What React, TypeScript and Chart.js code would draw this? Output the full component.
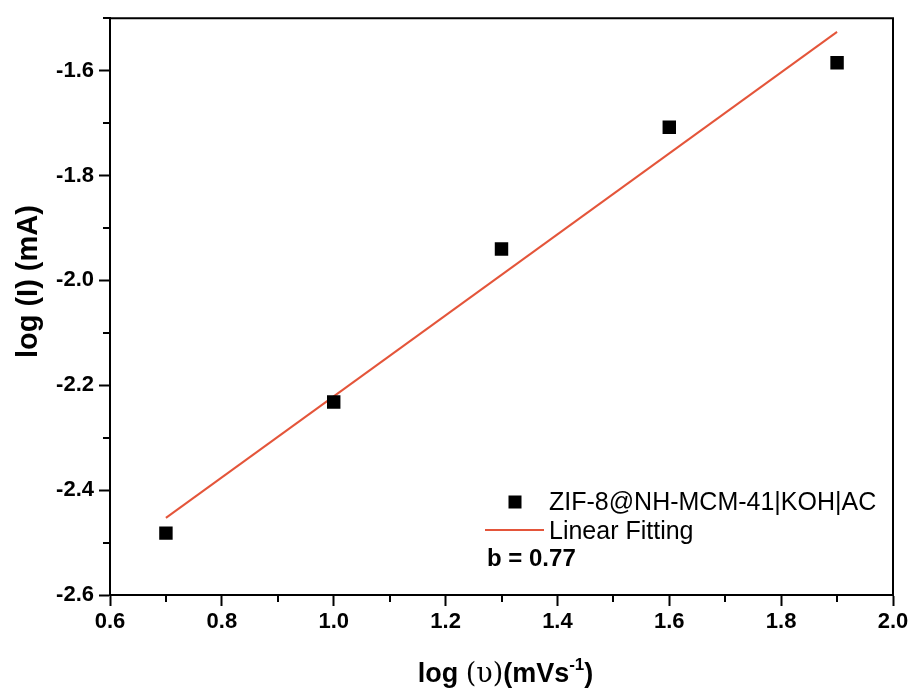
import React, { useEffect, useRef } from "react";
import { Chart, registerables } from "chart.js";

Chart.register(...registerables);

const scanRateLog = [0.7, 1.0, 1.3, 1.6, 1.9];
const currentLog = [-2.482, -2.232, -1.94, -1.708, -1.585];
const fitX = [0.7, 1.9];
const fitY = [-2.453, -1.526];
const xTicks = [0.6, 0.8, 1.0, 1.2, 1.4, 1.6, 1.8, 2.0];
const yTicks = [-2.6, -2.4, -2.2, -2.0, -1.8, -1.6];
const xMinor = [0.7, 0.9, 1.1, 1.3, 1.5, 1.7, 1.9];
const yMinor = [-2.5, -2.3, -2.1, -1.9, -1.7, -1.5];
const seriesLabel = "ZIF-8@NH-MCM-41|KOH|AC";
const fitLabel = "Linear Fitting";
const slopeLabel = "b = 0.77";

const RED = "#E4553A";

const decorPlugin = {
  id: "decor",
  afterDraw(chart: any) {
    const { ctx, chartArea, scales } = chart;
    const xs = scales.x;
    const ys = scales.y;
    ctx.save();
    ctx.strokeStyle = "#000";
    ctx.lineWidth = 2;
    // top and right frame
    ctx.beginPath();
    ctx.moveTo(chartArea.left - 1, chartArea.top);
    ctx.lineTo(chartArea.right, chartArea.top);
    ctx.lineTo(chartArea.right, chartArea.bottom);
    ctx.stroke();
    // minor ticks
    ctx.beginPath();
    xMinor.forEach((v) => {
      const px = Math.round(xs.getPixelForValue(v));
      ctx.moveTo(px, chartArea.bottom);
      ctx.lineTo(px, chartArea.bottom + 7);
    });
    yMinor.forEach((v) => {
      const py = Math.round(ys.getPixelForValue(v));
      ctx.moveTo(chartArea.left, py);
      ctx.lineTo(chartArea.left - 7, py);
    });
    ctx.stroke();

    // y title
    ctx.fillStyle = "#000";
    ctx.save();
    ctx.translate(29, (chartArea.top + chartArea.bottom) / 2 - 25);
    ctx.rotate(-Math.PI / 2);
    ctx.font = "bold 29px 'Liberation Sans', Arial, sans-serif";
    ctx.textAlign = "center";
    ctx.textBaseline = "middle";
    ctx.fillText("log (I) (mA)", 0, 0);
    ctx.restore();

    // x title with mixed fonts
    const bold = "bold 27px 'Liberation Sans', Arial, sans-serif";
    const serif = "27px 'DejaVu Serif', 'Liberation Serif', serif";
    const sup = "bold 17px 'Liberation Sans', Arial, sans-serif";
    const parts: [string, string, number][] = [
      ["log ", bold, 0],
      ["(\u03C5)", serif, 0],
      ["(mVs", bold, 0],
      ["-1", sup, -12],
      [")", bold, 0],
    ];
    let total = 0;
    const widths = parts.map(([t, f]) => {
      ctx.font = f;
      const w = ctx.measureText(t).width;
      total += w;
      return w;
    });
    let cx = (chartArea.left + chartArea.right) / 2 + 4 - total / 2;
    const baseY = 682;
    ctx.textAlign = "left";
    ctx.textBaseline = "alphabetic";
    parts.forEach(([t, f, dy], i) => {
      ctx.font = f;
      ctx.fillText(t, cx, baseY + dy);
      cx += widths[i];
    });

    // legend
    const lx = 515;
    ctx.fillStyle = "#000";
    ctx.fillRect(lx - 6.5, 502 - 6.5, 13, 13);
    ctx.font = "25px 'Liberation Sans', Arial, sans-serif";
    ctx.textBaseline = "middle";
    ctx.fillText(seriesLabel, 549, 503);
    ctx.strokeStyle = RED;
    ctx.lineWidth = 2;
    ctx.beginPath();
    ctx.moveTo(485, 530);
    ctx.lineTo(544, 530);
    ctx.stroke();
    ctx.fillText(fitLabel, 549, 532);
    ctx.font = "bold 24px 'Liberation Sans', Arial, sans-serif";
    ctx.fillText(slopeLabel, 487, 559);
    ctx.restore();
  },
};

export default function App() {
  const canvasRef = useRef<HTMLCanvasElement | null>(null);

  useEffect(() => {
    if (!canvasRef.current) return;
    const tickFont = { family: "'Liberation Sans', Arial, sans-serif", size: 22, weight: "bold" as const };
    const chart = new Chart(canvasRef.current, {
      type: "scatter",
      data: {
        datasets: [
          {
            label: seriesLabel,
            data: scanRateLog.map((x, i) => ({ x, y: currentLog[i] })),
            pointStyle: "rect",
            pointRadius: 9.5,
            pointHoverRadius: 9.5,
            backgroundColor: "#000",
            borderColor: "#000",
            borderWidth: 0,
            showLine: false,
          },
          {
            label: fitLabel,
            data: fitX.map((x, i) => ({ x, y: fitY[i] })),
            showLine: true,
            pointRadius: 0,
            borderColor: RED,
            borderWidth: 2,
            fill: false,
          },
        ],
      },
      options: {
        animation: false,
        responsive: true,
        maintainAspectRatio: false,
        layout: { padding: { top: 15, right: 24, left: 0, bottom: 0 } },
        plugins: { legend: { display: false }, tooltip: { enabled: false } },
        scales: {
          x: {
            type: "linear",
            min: 0.6,
            max: 2.0,
            afterBuildTicks: (s: any) => {
              s.ticks = xTicks.map((v) => ({ value: v }));
            },
            afterFit: (s: any) => {
              s.height = 101;
            },
            grid: { drawOnChartArea: false, drawTicks: true, tickLength: 11, tickWidth: 2, tickColor: "#000" },
            border: { display: true, color: "#000", width: 2 },
            ticks: {
              color: "#000",
              font: tickFont,
              padding: 3,
              maxRotation: 0,
              autoSkip: false,
              callback: (v: any) => Number(v).toFixed(1),
            },
          },
          y: {
            type: "linear",
            min: -2.6,
            max: -1.5,
            afterBuildTicks: (s: any) => {
              s.ticks = yTicks.map((v) => ({ value: v }));
            },
            afterFit: (s: any) => {
              s.width = 110;
            },
            grid: { drawOnChartArea: false, drawTicks: true, tickLength: 11, tickWidth: 2, tickColor: "#000" },
            border: { display: true, color: "#000", width: 2 },
            ticks: {
              color: "#000",
              font: tickFont,
              padding: 5,
              autoSkip: false,
              callback: (v: any) => Number(v).toFixed(1),
            },
          },
        },
      },
      plugins: [decorPlugin],
    });
    return () => chart.destroy();
  }, []);

  return (
    <div style={{ position: "fixed", left: 0, top: 0, width: 917, height: 696, background: "#fff" }}>
      <canvas ref={canvasRef} />
    </div>
  );
}
